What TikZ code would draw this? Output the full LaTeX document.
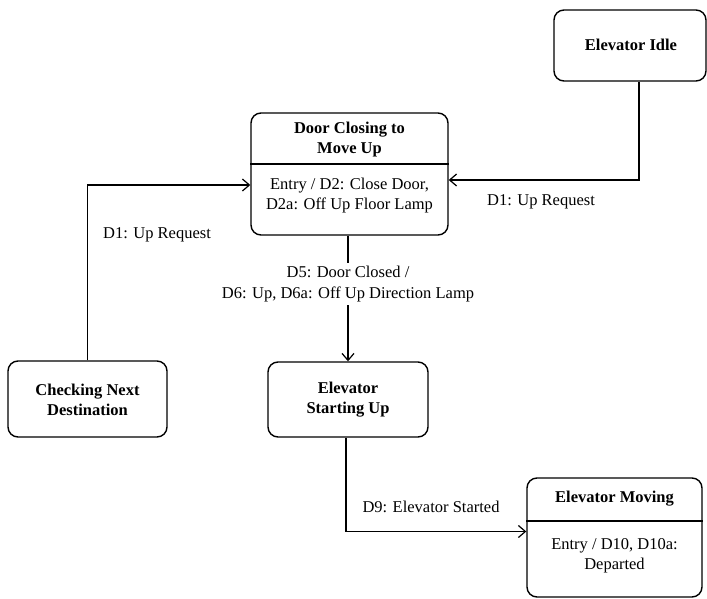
\documentclass[tikz,border=0pt]{standalone}
\usepackage{fontspec}
\setmainfont{Liberation Serif}
\usetikzlibrary{arrows.meta,calc}
\tikzset{
  statebox/.style={draw, line width=1.4pt, rounded corners=10pt, inner sep=0pt},
  txt/.style={font=\fontsize{16.5}{20}\selectfont, align=center, inner sep=0pt},
  ttl/.style={font=\fontsize{16.5}{20}\selectfont\bfseries, align=center, inner sep=0pt},
  lbl/.style={font=\fontsize{16.5}{20.5}\selectfont, inner sep=0pt},
  arr/.style={line width=1.2pt, -{Straight Barb[length=7pt,width=12pt,line width=1.2pt]}},
  divider/.style={line width=1.2pt}
}
\begin{document}
\begin{tikzpicture}[x=1pt,y=-1pt]
\useasboundingbox (0,0) rectangle (707,599);
% states
\node[statebox, minimum width=152pt, minimum height=71pt] (idle) at (630,45.5) {};
\node[ttl] (idlet) at (631,45) {Elevator Idle};

\node[statebox, minimum width=197pt, minimum height=122pt] (door) at (349.5,174) {};
\draw[divider] (door.west |- 0,164) -- (door.east |- 0,164);
\node[ttl] (doort) at (349.5,140) {Door Closing to\\Move Up};
\node[txt] (doorb) at (349.5,196) {Entry / D2: Close Door,\\D2a: Off Up Floor Lamp};

\node[statebox, minimum width=159pt, minimum height=76pt] (check) at (87.5,399) {};
\node[ttl] (checkt) at (87.5,400) {Checking Next\\Destination};

\node[statebox, minimum width=160pt, minimum height=75pt] (start) at (348,399.5) {};
\node[ttl] (startt) at (348,400) {Elevator\\Starting Up};

\node[statebox, minimum width=175pt, minimum height=119pt] (moving) at (614.5,537.5) {};
\draw[divider] (moving.west |- 0,521) -- (moving.east |- 0,521);
\node[ttl] (movingt) at (614.5,499) {Elevator Moving};
\node[txt] (movingb) at (614.5,556) {Entry / D10, D10a:\\Departed};

% transitions
\draw[arr] ([xshift=9pt]idle.south) |- ([yshift=-6pt]door.east);
\node[lbl] (l1) at (541,202) {D1: Up Request};

\draw[arr] (check.north) |- ([yshift=-11pt]door.west);
\node[lbl] (l2) at (157,235) {D1: Up Request};

\draw[arr] (door.south -| start.north) -- (start.north);
\node[lbl, align=center, fill=white, inner sep=3pt] (l3) at (348,284) {D5: Door Closed /\\D6: Up, D6a: Off Up Direction Lamp};

\draw[arr] ([xshift=-2pt]start.south) |- ([yshift=6pt]moving.west);
\node[lbl] (l4) at (431,507) {D9: Elevator Started};
\end{tikzpicture}
\end{document}
